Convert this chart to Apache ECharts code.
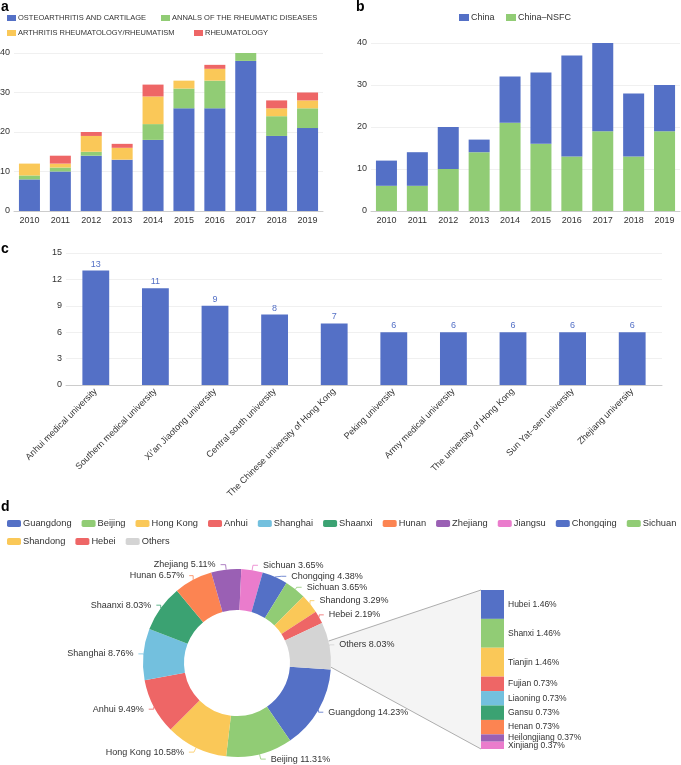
<!DOCTYPE html>
<html><head><meta charset="utf-8">
<script src="https://cdn.jsdelivr.net/npm/echarts@6/dist/echarts.min.js"></script>
<style>html,body{margin:0;padding:0;background:#fff}#c{width:681px;height:765px}</style>
</head><body><div id="c"></div>
<script>
// ---------- data ----------
const years = ['2010','2011','2012','2013','2014','2015','2016','2017','2018','2019'];
const oaCartilage    = [8,10,14,13,18,26,26,38,19,21];
const annalsRheum    = [1,1,1,0,4,5,7,2,5,5];
const arthritisRheum = [3,1,4,3,7,2,3,0,2,2];
const rheumatology   = [0,2,1,1,3,0,1,0,2,2];
const journalNames = ['OSTEOARTHRITIS AND CARTILAGE','ANNALS OF THE RHEUMATIC DISEASES','ARTHRITIS RHEUMATOLOGY/RHEUMATISM','RHEUMATOLOGY'];

const chinaNSFC  = [6,6,10,14,21,16,13,19,13,19];
const chinaOther = [6,8,10,3,11,17,24,21,15,11];

const universities = ['Anhui medical university','Southern medical university','Xi\u2019an Jiaotong university','Central south university','The Chinese university of Hong Kong','Peking university','Army medical university','The university of Hong Kong','Sun Yat\u2013sen university','Zhejiang university'];
const uniCounts = [13,11,9,8,7,6,6,6,6,6];

const provinces = ['Guangdong','Beijing','Hong Kong','Anhui','Shanghai','Shaanxi','Hunan','Zhejiang','Jiangsu','Chongqing','Sichuan','Shandong','Hebei','Others'];
const provinceShares = [14.23,11.31,10.58,9.49,8.76,8.03,6.57,5.11,3.65,4.38,3.65,3.29,2.19,8.03];
const provinceLabels = ['Guangdong','Beijing','Hong Kong','Anhui','Shanghai','Shaanxi','Hunan','Zhejiang','Sichuan','Chongqing','Sichuan','Shandong','Hebei','Others'];

const otherProvinces = ['Hubei','Shanxi','Tianjin','Fujian','Liaoning','Gansu','Henan','Heilongjiang','Xinjiang'];
const otherShares = [1.46,1.46,1.46,0.73,0.73,0.73,0.73,0.37,0.37];

// ---------- style ----------
const palette = ['#5470c6','#91cc75','#fac858','#ee6666','#73c0de','#3ba272','#fc8452','#9a60b4','#ea7ccc'];
const othersColor = '#d4d4d4';
const FONT = 'Liberation Sans, Arial, Helvetica, sans-serif';
const txt = '#333';

const chart = echarts.init(document.getElementById('c'));

function catAxis(gi, data, extra) {
  return Object.assign({
    type: 'category', gridIndex: gi, data: data,
    axisLine: { lineStyle: { color: '#ccc' } },
    axisTick: { lineStyle: { color: '#ccc' } },
    axisLabel: { color: txt, fontSize: 9, fontFamily: FONT, margin: 5 }
  }, extra || {});
}
function valAxis(gi, max, interval, extra) {
  return Object.assign({
    type: 'value', gridIndex: gi, min: 0, max: max, interval: interval,
    splitLine: { lineStyle: { color: '#f0f0f0' } },
    axisLabel: { color: txt, fontSize: 9, fontFamily: FONT, margin: 4 }
  }, extra || {});
}
function legendItem(name, left, top, fs, iw, ih, icon) {
  return {
    data: [name], left: left, top: top, orient: 'horizontal', padding: 0,
    itemWidth: iw, itemHeight: ih, icon: icon || 'roundRect', itemGap: 0,
    textStyle: { fontSize: fs, color: txt, fontFamily: FONT, padding: [0,0,0,-3] }
  };
}

const aSeriesData = [oaCartilage, annalsRheum, arthritisRheum, rheumatology];
const series = [];
aSeriesData.forEach((d, i) => {
  series.push({ name: journalNames[i], type: 'bar', stack: 'a', xAxisIndex: 0, yAxisIndex: 0,
    data: d, barWidth: '68%', itemStyle: { color: palette[i] } });
});
series.push({ name: 'China\u2013NSFC', type: 'bar', stack: 'b', xAxisIndex: 1, yAxisIndex: 1,
  data: chinaNSFC, barWidth: '68%', itemStyle: { color: palette[1] } });
series.push({ name: 'China', type: 'bar', stack: 'b', xAxisIndex: 1, yAxisIndex: 1,
  data: chinaOther, barWidth: '68%', itemStyle: { color: palette[0] } });
series.push({ name: 'Universities', type: 'bar', xAxisIndex: 2, yAxisIndex: 2,
  data: uniCounts, barWidth: '45%', itemStyle: { color: palette[0] },
  label: { show: true, position: 'top', distance: 2, color: '#5470c6', fontSize: 9, fontFamily: FONT } });

const pieCenter = [237, 663];
const pieRadius = [53, 94];
const pieStart = -4;
const pieColors = provinces.map((p, i) => i === provinces.length - 1 ? othersColor : palette[i % palette.length]);
series.push({
  name: 'Provinces', type: 'pie', center: pieCenter, radius: pieRadius, startAngle: pieStart, clockwise: true,
  z: 5, avoidLabelOverlap: true,
  data: provinces.map((p, i) => ({ name: p, value: provinceShares[i], itemStyle: { color: pieColors[i] } })),
  label: { show: true, position: 'outside', color: txt, fontSize: 9, fontFamily: FONT,
    formatter: (p) => provinceLabels[p.dataIndex] + ' ' + provinceShares[p.dataIndex].toFixed(2) + '%' },
  labelLine: { show: true, length: 5, length2: 5, lineStyle: { width: 0.8 } },
  emphasis: { disabled: true }
});
const otherSum = otherShares.reduce((a, b) => a + b, 0);
otherProvinces.forEach((p, i) => {
  series.push({ name: p, type: 'bar', stack: 'o', xAxisIndex: 3, yAxisIndex: 3, barWidth: '100%',
    data: [otherShares[i]], itemStyle: { color: palette[i % palette.length] },
    label: { show: true, position: 'right', distance: 4, color: txt, fontSize: 8.5, fontFamily: FONT,
      formatter: () => p + ' ' + otherShares[i].toFixed(2) + '%' } });
});

const option = {
  animation: false,
  textStyle: { fontFamily: FONT },
  grid: [
    { left: 14, right: 358, top: 53, bottom: 554, outerBoundsMode: 'none' },
    { left: 371, right: 1, top: 43, bottom: 554, outerBoundsMode: 'none' },
    { left: 66, right: 19, top: 253, bottom: 380, outerBoundsMode: 'none' },
    { left: 481, top: 590, width: 23, height: 159, outerBoundsMode: 'none' }
  ],
  xAxis: [
    catAxis(0, years),
    catAxis(1, years),
    catAxis(2, universities, { axisLabel: { color: txt, fontSize: 9, fontFamily: FONT, rotate: 45, margin: 5, interval: 0 } }),
    { type: 'category', gridIndex: 3, data: [''], show: false }
  ],
  yAxis: [
    valAxis(0, 40, 10),
    valAxis(1, 40, 10),
    valAxis(2, 15, 3),
    { type: 'value', gridIndex: 3, min: 0, max: otherSum, inverse: true, show: false }
  ],
  legend: [
    legendItem(journalNames[0], 7, 14, 7.5, 9, 6, 'rect'),
    legendItem(journalNames[1], 161, 14, 7.5, 9, 6, 'rect'),
    legendItem(journalNames[2], 7, 29, 7.5, 9, 6, 'rect'),
    legendItem(journalNames[3], 194, 29, 7.5, 9, 6, 'rect'),
    legendItem('China', 459, 13, 9, 10, 7, 'rect'),
    legendItem('China\u2013NSFC', 506, 13, 9, 10, 7, 'rect'),
    { data: provinces.slice(0, 11), left: 7, top: 519, width: 720, padding: 0, itemWidth: 14, itemHeight: 7, itemGap: 10,
      icon: 'roundRect', textStyle: { fontSize: 9.3, color: txt, fontFamily: FONT, padding: [0,0,0,-3] } },
    { data: provinces.slice(11), left: 7, top: 537, width: 720, padding: 0, itemWidth: 14, itemHeight: 7, itemGap: 10,
      icon: 'roundRect', textStyle: { fontSize: 9.3, color: txt, fontFamily: FONT, padding: [0,0,0,-3] } }
  ],
  series: series,
  graphic: [
    { type: 'text', left: 1, top: 0, style: { text: 'a', font: 'bold 14px ' + FONT, fill: '#000' } },
    { type: 'text', left: 356, top: 0, style: { text: 'b', font: 'bold 14px ' + FONT, fill: '#000' } },
    { type: 'text', left: 1, top: 242, style: { text: 'c', font: 'bold 14px ' + FONT, fill: '#000' } },
    { type: 'text', left: 1, top: 500, style: { text: 'd', font: 'bold 14px ' + FONT, fill: '#000' } }
  ]
};
chart.setOption(option);

// connector between the "Others" slice and the breakdown bar
(function () {
  const total = provinceShares.reduce((a, b) => a + b, 0);
  const othersSpan = provinceShares[provinceShares.length - 1] / total * 360;
  const rad = (a) => a * Math.PI / 180;
  const R = pieRadius[1];
  const upA = pieStart + othersSpan * 0.6;
  const loA = pieStart + othersSpan * 0.05;
  const p1 = [pieCenter[0] + R * Math.cos(rad(upA)), pieCenter[1] - R * Math.sin(rad(upA))];
  const p2 = [pieCenter[0] + R * Math.cos(rad(loA)), pieCenter[1] - R * Math.sin(rad(loA))];
  const rect = chart.getModel().getComponent('grid', 3).coordinateSystem.getRect();
  const b1 = [rect.x, rect.y];
  const b2 = [rect.x, rect.y + rect.height];
  const g = option.graphic.slice();
  g.push({ type: 'polygon', z: -1, silent: true, shape: { points: [p1, b1, b2, p2] }, style: { fill: '#f4f4f4', stroke: null } });
  g.push({ type: 'line', z: -1, silent: true, shape: { x1: p1[0], y1: p1[1], x2: b1[0], y2: b1[1] }, style: { stroke: '#999', lineWidth: 0.8 } });
  g.push({ type: 'line', z: -1, silent: true, shape: { x1: p2[0], y1: p2[1], x2: b2[0], y2: b2[1] }, style: { stroke: '#999', lineWidth: 0.8 } });
  chart.setOption({ graphic: g });
})();
</script>
</body></html>
